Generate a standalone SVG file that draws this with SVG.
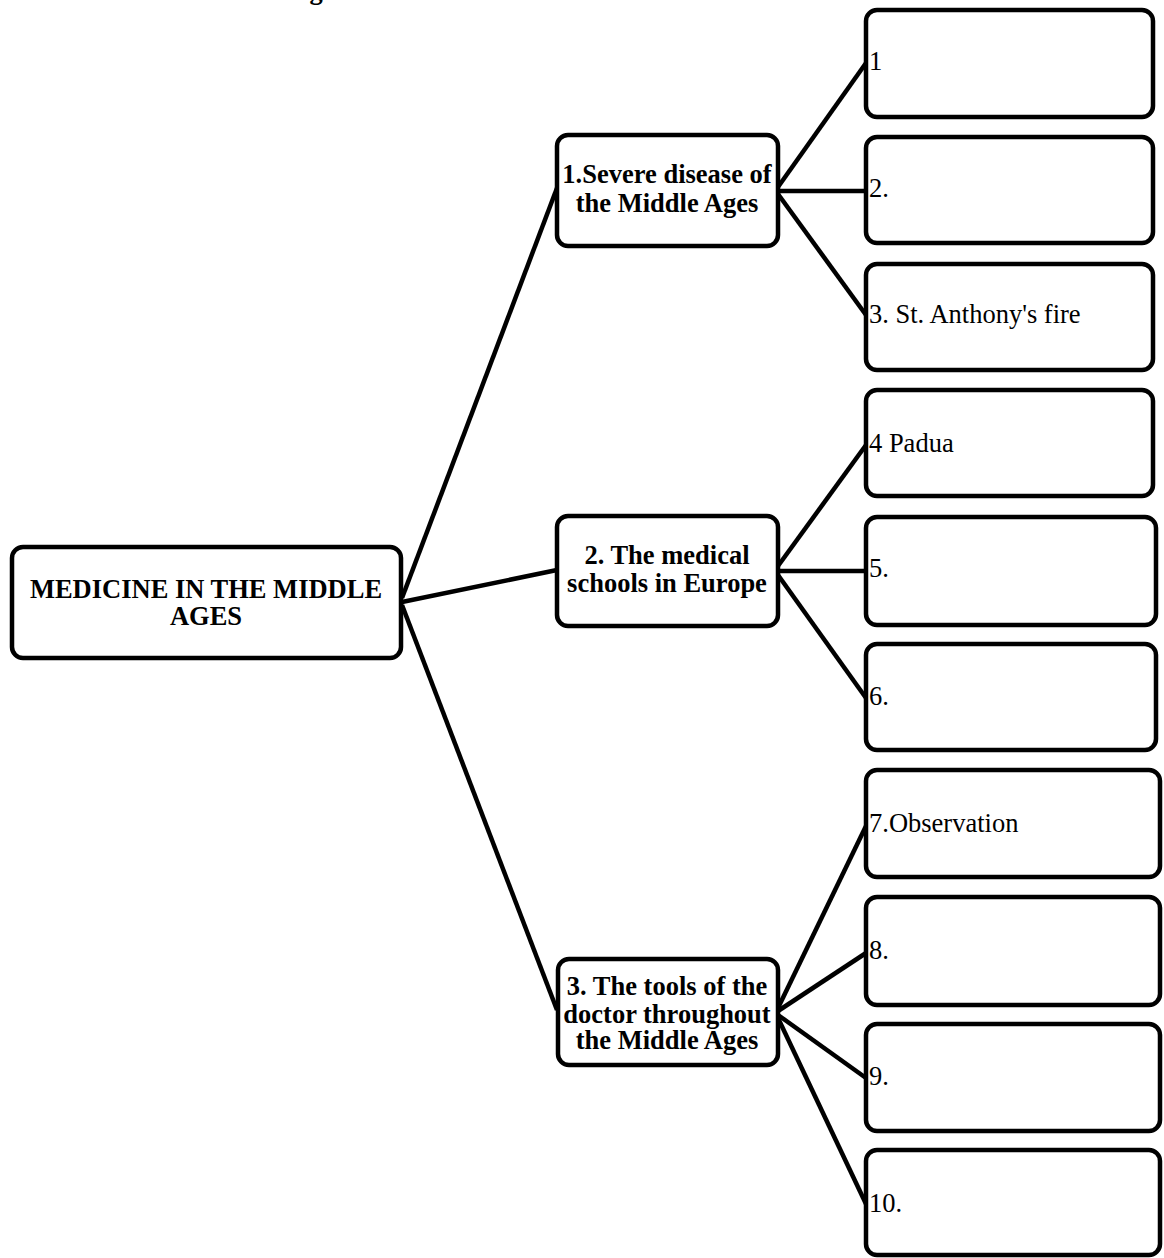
<svg xmlns="http://www.w3.org/2000/svg" width="1164" height="1258" viewBox="0 0 1164 1258">
<style>
.box{fill:#fff;stroke:#000;stroke-width:4.5}
.ln{stroke:#000;stroke-width:4.5;stroke-linecap:butt;fill:none}
.b{font-family:"Liberation Serif","Times New Roman",serif;font-weight:bold;font-size:26.5px;fill:#000;text-anchor:middle}
.r{font-family:"Liberation Serif","Times New Roman",serif;font-size:26.5px;fill:#000}
</style>
<rect width="1164" height="1258" fill="#fff"/>
<text class="b" x="316" y="-1">g</text>
<g id="connectors">
<line class="ln" x1="402" y1="598" x2="557" y2="188"/>
<line class="ln" x1="402" y1="602" x2="557" y2="570"/>
<line class="ln" x1="402" y1="605" x2="557" y2="1010"/>
<line class="ln" x1="778" y1="187" x2="866" y2="63"/>
<line class="ln" x1="778" y1="191" x2="866" y2="191"/>
<line class="ln" x1="778" y1="194" x2="866" y2="315"/>
<line class="ln" x1="778" y1="566" x2="866" y2="445"/>
<line class="ln" x1="778" y1="571" x2="866" y2="571"/>
<line class="ln" x1="778" y1="575" x2="866" y2="698"/>
<line class="ln" x1="778" y1="1008" x2="866" y2="826"/>
<line class="ln" x1="778" y1="1011" x2="866" y2="953"/>
<line class="ln" x1="778" y1="1015" x2="866" y2="1078"/>
<line class="ln" x1="778" y1="1018" x2="866" y2="1204"/>
</g>
<g id="root">
<rect class="box" x="12" y="547" width="389" height="111" rx="11"/>
<text class="b" x="206" y="598">MEDICINE IN THE MIDDLE</text>
<text class="b" x="206" y="625">AGES</text>
</g>
<g id="m1">
<rect class="box" x="557" y="135" width="221" height="111" rx="11"/>
<text class="b" x="667" y="183">1.Severe disease of</text>
<text class="b" x="667" y="212">the Middle Ages</text>
</g>
<g id="m2">
<rect class="box" x="557" y="516" width="221" height="110" rx="11"/>
<text class="b" x="667" y="564">2. The medical</text>
<text class="b" x="667" y="592">schools in Europe</text>
</g>
<g id="m3">
<rect class="box" x="558" y="959" width="220" height="106" rx="11"/>
<text class="b" x="667" y="995">3. The tools of the</text>
<text class="b" x="667" y="1023">doctor throughout</text>
<text class="b" x="667" y="1049">the Middle Ages</text>
</g>
<g id="n1">
<rect class="box" x="866" y="10" width="287" height="107" rx="11"/>
<text class="r" x="869" y="70">1</text>
</g>
<g id="n2">
<rect class="box" x="866" y="137" width="287" height="106" rx="11"/>
<text class="r" x="869" y="197">2.</text>
</g>
<g id="n3">
<rect class="box" x="866" y="264" width="287" height="106" rx="11"/>
<text class="r" x="869" y="323">3. St. Anthony's fire</text>
</g>
<g id="n4">
<rect class="box" x="866" y="390" width="287" height="106" rx="11"/>
<text class="r" x="869" y="452">4 Padua</text>
</g>
<g id="n5">
<rect class="box" x="866" y="517" width="290" height="108" rx="11"/>
<text class="r" x="869" y="577">5.</text>
</g>
<g id="n6">
<rect class="box" x="866" y="644" width="290" height="106" rx="11"/>
<text class="r" x="869" y="705">6.</text>
</g>
<g id="n7">
<rect class="box" x="866" y="770" width="294" height="107" rx="11"/>
<text class="r" x="869" y="832">7.Observation</text>
</g>
<g id="n8">
<rect class="box" x="866" y="897" width="294" height="108" rx="11"/>
<text class="r" x="869" y="959">8.</text>
</g>
<g id="n9">
<rect class="box" x="866" y="1024" width="294" height="107" rx="11"/>
<text class="r" x="869" y="1085">9.</text>
</g>
<g id="n10">
<rect class="box" x="866" y="1150" width="294" height="105" rx="11"/>
<text class="r" x="869" y="1212">10.</text>
</g>
</svg>
